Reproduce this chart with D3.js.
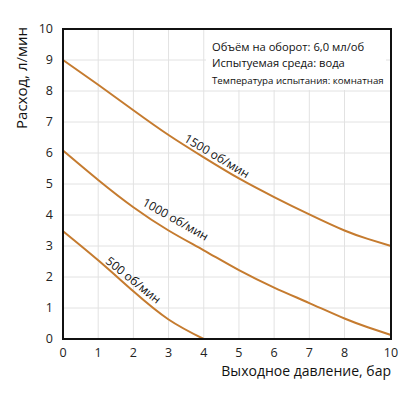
<html lang="ru">
<head>
<meta charset="UTF-8">
<title>Расход</title>
<script src="https://d3js.org/d3.v7.min.js"></script>
<style>
  body { margin: 0; background: #fff; }
  text { font-family: "Open Sans", sans-serif; }
</style>
</head>
<body>
<script>
// pressure, bar (9 has no tick in the original picture)
const pressure = [0, 1, 2, 3, 4, 5, 6, 7, 8, 9, 10];
const xTicks = [0, 1, 2, 3, 4, 5, 6, 7, 8, 10];
const yTicks = [0, 1, 2, 3, 4, 5, 6, 7, 8, 9, 10];

const flow1500 = [9.0, 8.2, 7.38, 6.58, 5.86, 5.18, 4.58, 4.02, 3.5, 3.23, 3.0];
const flow1000 = [6.08, 5.13, 4.25, 3.5, 2.86, 2.22, 1.66, 1.16, 0.66, 0.38, 0.13];
const pressure500 = [0, 1, 2, 3, 4];
const flow500 = [3.48, 2.54, 1.54, 0.63, 0.0];

const curveLabels = [
  { text: "1500 об/мин", x: 4.375, y: 5.9 },
  { text: "1000 об/мин", x: 3.2, y: 3.86 },
  { text: "500 об/мин", x: 2.0, y: 1.9 }
];

const notes = [
  "Объём на оборот: 6,0 мл/об",
  "Испытуемая среда: вода",
  "Температура испытания: комнатная"
];

const w = 418, h = 417;
const mLeft = 63, mRight = 391, mTop = 29, mBottom = 339;

const svg = d3.select("body").append("svg")
  .attr("width", w)
  .attr("height", h);

// the last cell (8..10) is drawn narrower in the source, so piecewise
const x = d3.scaleLinear().domain([0, 8, 10]).range([mLeft, 344.5, mRight]);
const y = d3.scaleLinear().domain([0, 10]).range([mBottom, mTop]);

// grid
svg.append("g")
  .selectAll("line")
  .data(xTicks.filter(d => d > 0 && d < 10))
  .enter().append("line")
  .attr("x1", d => x(d)).attr("x2", d => x(d))
  .attr("y1", mTop).attr("y2", mBottom)
  .attr("stroke", "#e2e2e2").attr("stroke-width", 1);

svg.append("g")
  .selectAll("line")
  .data(yTicks.filter(d => d > 0 && d < 10))
  .enter().append("line")
  .attr("x1", mLeft).attr("x2", mRight)
  .attr("y1", d => y(d)).attr("y2", d => y(d))
  .attr("stroke", "#e2e2e2").attr("stroke-width", 1);

// white box behind the notes
svg.append("rect")
  .attr("x", 206).attr("y", mTop + 1)
  .attr("width", 180).attr("height", 60)
  .attr("fill", "#fff");

// curves
const line = d3.line()
  .x(d => x(d[0]))
  .y(d => y(d[1]))
  .curve(d3.curveNatural);

const series = [
  d3.zip(pressure, flow1500),
  d3.zip(pressure, flow1000),
  d3.zip(pressure500, flow500)
];

svg.append("g")
  .selectAll("path")
  .data(series)
  .enter().append("path")
  .attr("d", line)
  .attr("fill", "none")
  .attr("stroke", "#c57b2f")
  .attr("stroke-width", 2);

// labels along the curves, angle from the local slope
curveLabels.forEach((lab, i) => {
  const s = series[i];
  const k = Math.min(Math.floor(lab.x), s.length - 2);
  const dx = x(s[k + 1][0]) - x(s[k][0]);
  const dy = y(s[k + 1][1]) - y(s[k][1]);
  const ang = Math.atan2(dy, dx) * 180 / Math.PI;
  svg.append("text")
    .attr("transform", "translate(" + x(lab.x) + "," + y(lab.y) + ") rotate(" + ang + ")")
    .attr("text-anchor", "middle")
    .attr("dy", "0.35em")
    .attr("font-size", 12)
    .attr("fill", "#111")
    .text(lab.text);
});

// frame
svg.append("rect")
  .attr("x", mLeft).attr("y", mTop)
  .attr("width", mRight - mLeft).attr("height", mBottom - mTop)
  .attr("fill", "none")
  .attr("stroke", "#111")
  .attr("stroke-width", 2);

// tick labels
svg.append("g")
  .selectAll("text")
  .data(xTicks)
  .enter().append("text")
  .attr("x", d => x(d))
  .attr("y", 356.5)
  .attr("text-anchor", "middle")
  .attr("font-size", 12.5)
  .attr("fill", "#222")
  .text(d => d);

svg.append("g")
  .selectAll("text")
  .data(yTicks)
  .enter().append("text")
  .attr("x", mLeft - 10)
  .attr("y", d => y(d))
  .attr("dy", "0.35em")
  .attr("text-anchor", "end")
  .attr("font-size", 12.5)
  .attr("fill", "#222")
  .text(d => d);

// axis titles
svg.append("text")
  .attr("x", mRight)
  .attr("y", 376)
  .attr("text-anchor", "end")
  .attr("font-family", "Liberation Sans, Arial, sans-serif")
  .attr("font-size", 14)
  .attr("fill", "#111")
  .text("Выходное давление, бар");

svg.append("text")
  .attr("transform", "translate(27," + 27 + ") rotate(-90)")
  .attr("text-anchor", "end")
  .attr("font-family", "Liberation Sans, Arial, sans-serif")
  .attr("font-size", 15)
  .attr("fill", "#111")
  .text("Расход, л/мин");

// notes
svg.append("g")
  .selectAll("text")
  .data(notes)
  .enter().append("text")
  .attr("x", 212)
  .attr("y", (d, i) => [50.7, 66.5, 84.3][i])
  .attr("font-size", (d, i) => i < 2 ? 11.2 : 9.7)
  .attr("fill", "#111")
  .text(d => d);
</script>
</body>
</html>
